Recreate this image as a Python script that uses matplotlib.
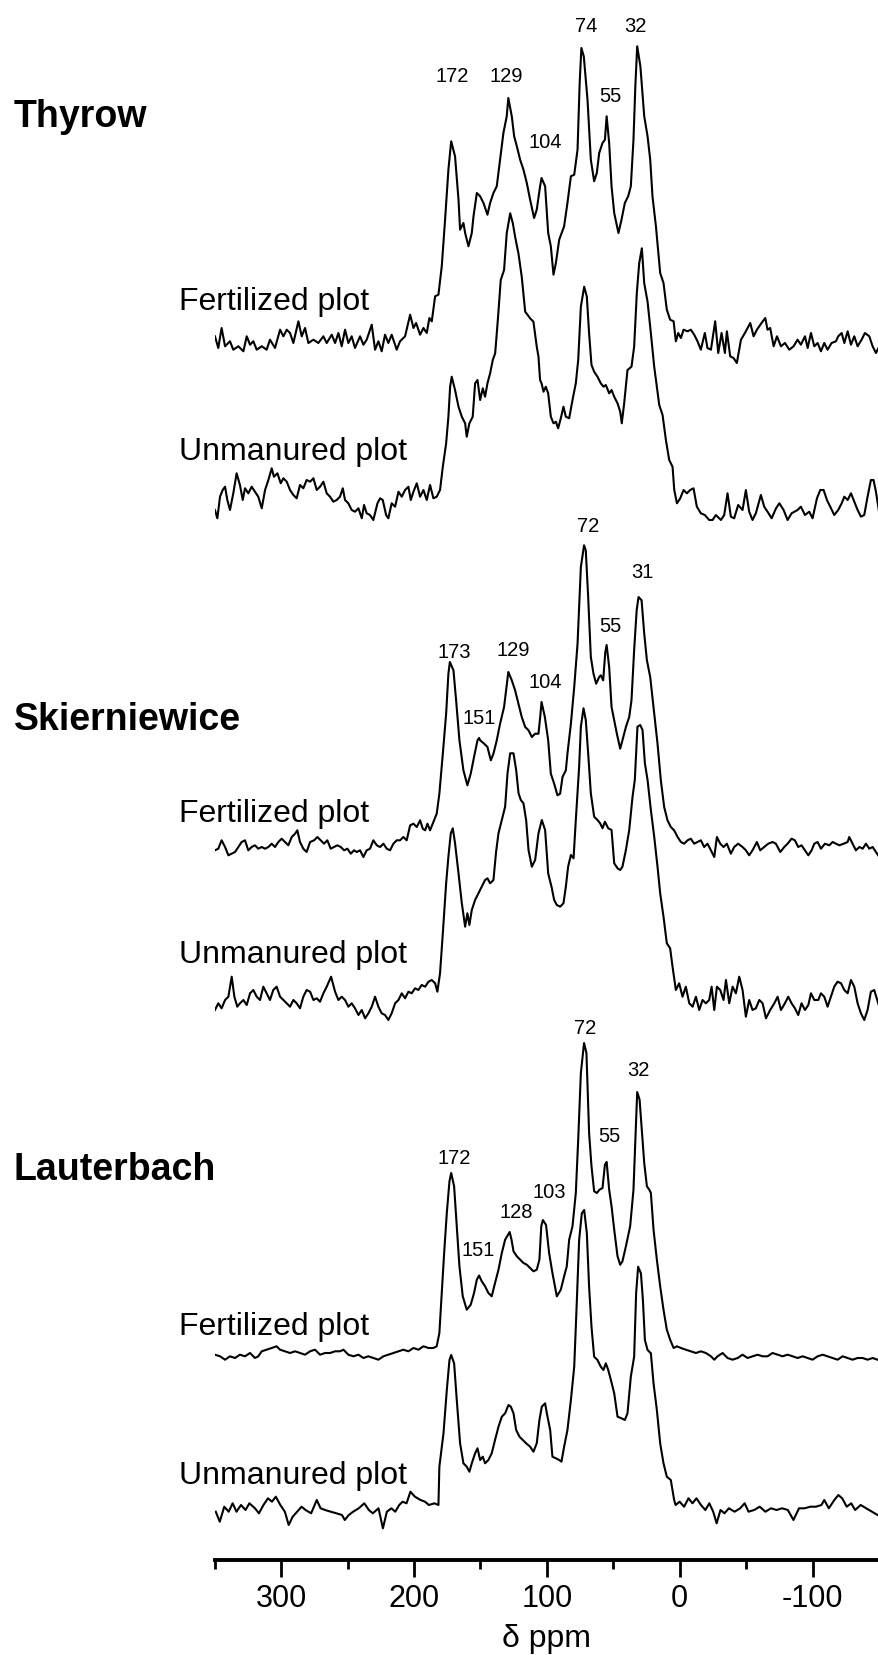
import matplotlib.pyplot as plt

plt.rcParams['font.family'] = ['Liberation Sans', 'DejaVu Sans']
plt.rcParams['axes.unicode_minus'] = False

# chemical shift (ppm) and intensity (a.u., above each trace's baseline)
thyrow_fert_ppm = [349.8, 347.3, 344.8, 342.2, 338.5, 336.0, 332.2, 328.4, 325.9, 323.4, 320.9, 318.4, 314.6,
                   310.9, 308.4, 304.6, 300.8, 298.3, 295.8, 293.3, 290.8, 287.0, 284.5, 282.0, 279.5, 275.7,
                   272.0, 268.2, 265.7, 261.9, 259.4, 256.9, 254.4, 251.9, 249.4, 246.9, 244.4, 240.6, 238.1,
                   235.6, 231.8, 229.3, 226.8, 224.3, 221.8, 219.3, 216.8, 213.0, 210.5, 206.7, 202.9, 200.4,
                   198.4, 195.4, 192.9, 190.4, 188.4, 186.6, 184.1, 181.6, 179.1, 176.6, 174.1, 172.0, 169.1,
                   166.5, 165.3, 162.8, 161.5, 159.0, 156.5, 155.2, 152.7, 150.2, 147.7, 144.7, 142.7, 140.2,
                   137.7, 135.2, 132.7, 130.2, 129.0, 126.4, 124.6, 122.6, 120.1, 117.6, 115.1, 112.6, 109.6,
                   107.6, 105.1, 104.0, 101.3, 99.0, 97.0, 95.0, 93.2, 90.7, 87.0, 84.5, 81.9, 79.4, 76.9,
                   75.3, 74.0, 72.2, 69.4, 66.9, 64.4, 62.4, 60.6, 58.1, 56.3, 55.0, 53.1, 51.3, 49.3, 46.1,
                   43.8, 41.3, 38.8, 36.8, 34.8, 33.4, 32.0, 29.6, 26.7, 24.2, 22.2, 20.5, 17.9, 14.7, 12.2,
                   9.7, 7.2, 4.6, 2.9, 1.1, -0.9, -2.9, -5.9, -8.4, -10.9, -13.4, -15.9, -18.9, -20.9, -23.5,
                   -26.7, -29.0, -31.5, -34.0, -35.5, -38.0, -40.5, -43.0, -46.1, -49.1, -53.1, -55.6, -58.1,
                   -61.6, -64.4, -66.1, -68.1, -70.7, -73.2, -76.2, -79.2, -82.5, -85.7, -88.7, -91.2, -94.3,
                   -96.3, -98.8, -101.3, -103.8, -106.3, -108.8, -111.3, -114.3, -117.6, -119.3, -121.9,
                   -123.9, -126.4, -128.9, -131.4, -133.9, -136.9, -139.4, -142.7, -145.2, -147.7, -150.2]
thyrow_fert_int = [6.7, -5, 15, -3.3, 1.7, -6.7, -3.3, -8.3, 6.7, -1.7, 1.7, -6.7, -3.3,
                   -6.7, 3.3, -5, 13.3, 6.7, 13.3, 10, 0, 21.7, 6.7, 15, 0, 3.3,
                   0, 6.7, 0, 8.3, 0, 10, -3.3, 13.3, 0, 6.7, -5, 6.7, -1.7,
                   3.3, 18.3, -6.7, 1.7, -8.3, 8.3, 0, 8.3, -6.7, 1.7, 6.7, 28.3, 15,
                   20, 8.3, 15, 10, 25, 21.7, 46.7, 48.3, 76.7, 123.3, 173.3, 201.7, 186.7,
                   143.3, 113.3, 120, 110, 96.7, 110, 126.7, 150, 146.7, 140, 128.3, 140, 150,
                   156.7, 183.3, 210, 226.7, 245, 226.7, 206.7, 196.7, 183.3, 173.3, 160, 143.3, 125,
                   133.3, 156.7, 165, 156.7, 110, 96.7, 68.3, 80, 103.3, 116.7, 140, 166.7, 168.3, 193.3,
                   260, 295, 286.7, 243.3, 183.3, 161.7, 170, 190, 200, 203.3, 226.7, 200, 156.7, 130, 110,
                   123.3, 140, 146.7, 156.7, 203.3, 256.7, 296.7, 276.7, 226.7, 206.7, 183.3, 146.7, 116.7, 70, 60,
                   33.3, 23.3, 21.7, 1.7, 10, 5, 13.3, 11.7, 13.3, 8.3, 1.7, -6.7, 10, -5, -6.7,
                   21.7, -10, 10, -10, 11.7, -13.3, -15, -20, 3.3, 10, 20, 6.7, 13.3,
                   20, 25, 13.3, 15, -3.3, 6.7, -3.3, 0, -6.7, -3.3, 3.3, -1.7, 6.7,
                   -5, 10, -3.3, 0, -8.3, 0, -6.7, 0, 1.7, 6.7, 10,
                   0, 11.7, -1.7, 6.7, -3.3, 3.3, 10, 6.7, -3.3, -10, -3.3]

thyrow_unman_ppm = [349.8, 348.0, 346.0, 344.0, 342.2, 340.5, 338.5, 336.0, 333.5, 331.0, 328.9, 327.2, 324.7,
                    322.2, 319.7, 317.2, 314.6, 312.1, 309.6, 307.1, 305.4, 302.8, 300.3, 298.3, 295.8, 293.3,
                    290.8, 288.3, 285.8, 283.3, 280.8, 278.2, 275.7, 273.2, 270.7, 268.2, 265.7, 263.2, 260.7,
                    258.2, 255.7, 253.6, 251.9, 249.4, 246.9, 244.4, 241.8, 239.3, 237.6, 235.6, 233.1, 230.6,
                    227.5, 225.5, 223.5, 221.0, 219.3, 216.8, 214.2, 211.7, 209.2, 206.7, 204.2, 202.4, 200.4,
                    197.9, 195.4, 192.9, 190.4, 187.9, 185.4, 182.9, 180.4, 178.3, 175.8, 174.1, 172.8, 171.6,
                    169.1, 166.5, 164.0, 161.5, 160.3, 158.3, 155.8, 154.0, 152.2, 150.2, 148.2, 146.5, 144.7,
                    142.7, 140.7, 138.9, 136.9, 134.7, 132.2, 130.2, 127.6, 125.6, 123.9, 121.4, 118.9, 116.3,
                    112.6, 110.1, 107.6, 106.3, 105.1, 104.0, 102.5, 100.8, 99.0, 97.0, 95.0, 93.2, 91.5, 89.5,
                    87.5, 85.7, 83.2, 80.7, 78.2, 76.4, 74.4, 71.9, 69.9, 68.2, 66.4, 64.4, 61.9, 59.4, 57.4,
                    55.6, 53.1, 51.3, 49.3, 46.8, 44.8, 43.6, 41.8, 39.3, 36.3, 34.3, 32.3, 30.5, 28.5, 26.7,
                    24.2, 21.7, 19.2, 15.4, 12.9, 10.4, 7.9, 5.4, 4.1, 2.1, -0.4, -2.9, -5.4, -7.9, -10.4,
                    -12.9, -15.9, -18.9, -22.2, -24.7, -27.2, -31.0, -33.5, -36.0, -38.5, -41.0, -44.0, -47.3,
                    -49.8, -52.3, -54.8, -57.3, -61.1, -63.6, -66.1, -69.2, -72.5, -75.0, -78.2, -81.2, -84.2,
                    -88.7, -91.2, -94.3, -97.5, -100.0, -103.3, -105.8, -108.3, -110.8, -113.3, -116.3, -119.3,
                    -121.9, -123.9, -126.4, -128.9, -131.4, -133.9, -136.4, -138.9, -141.4, -143.9, -145.9,
                    -147.7, -150.2]
thyrow_unman_int = [-10, -18.3, 3.3, 10, 13.3, 0, -10, 6.7, 26.7, 15, 0, 11.7, 6.7,
                    13.3, 8.3, 3.3, -8.3, 10, 20, 31.7, 23.3, 26.7, 16.7, 21.7, 18.3, 10,
                    5, 1.7, 15, 11.7, 20, 18.3, 21.7, 10, 13.3, 18.3, 6.7, 3.3, -1.7,
                    0, 3.3, 11.7, 0, -3.3, -10, -11.7, -8.3, -18.3, -5, -13.3, -15, -20,
                    -3.3, 1.7, 0, -15, -18.3, -3.3, -6.7, 8.3, 3.3, 10, 13.3, 0, 8.3,
                    16.7, 3.3, 10, 0, 15, 1.7, 3.3, 10, 33.3, 56.7, 83.3, 113.3, 123.3,
                    110, 93.3, 83.3, 76.7, 63.3, 76.7, 83.3, 116.7, 120, 100, 111.7, 103.3, 116.7,
                    126.7, 140, 146.7, 180, 220, 230, 266.7, 286.7, 276.7, 263.3, 246.7, 223.3, 188.3,
                    181.7, 178.3, 153.3, 143.3, 120, 116.7, 108.3, 113.3, 106.7, 83.3, 76.7, 78.3, 71.7, 81.7,
                    93.3, 83.3, 81.7, 100, 116.7, 140, 193.3, 213.3, 203.3, 166.7, 135, 128.3, 123.3, 116.7, 113.3,
                    115, 106.7, 110, 103.3, 96.7, 88.3, 76.7, 96.7, 130, 133.3, 153.3, 206.7, 236.7, 251.7, 216.7,
                    198.3, 166.7, 133.3, 95, 85, 60, 40, 33.3, 10, -3.3, 1.7, 10, 6.7, 10, 11.7,
                    -6.7, -13.3, -15, -20, -20, -15, -20, -15, 6.7, -16.7, -18.3, -5, -10,
                    10, -11.7, -20, -13.3, 5, -6.7, -11.7, -18.3, -8.3, -3.3, -10, -20, -13.3,
                    -10, -6.7, -15, -11.7, -18.3, 1.7, 10, 10, 0, -6.7, -15, -10,
                    -3.3, 3.3, 0, 6.7, -1.7, -10, -16.7, -15, 3.3, 20, 20,
                    8.3, -13.3]

skier_fert_ppm = [349.8, 347.3, 344.8, 342.2, 339.7, 337.2, 334.7, 332.2, 329.7, 327.2, 324.7, 322.2, 319.7,
                  317.2, 314.6, 312.1, 309.6, 307.1, 304.6, 302.1, 299.6, 297.1, 294.6, 292.0, 289.5, 287.8,
                  285.8, 283.3, 280.8, 278.2, 275.2, 272.7, 270.2, 267.7, 265.2, 262.7, 260.2, 257.7, 255.1,
                  252.6, 250.1, 247.6, 245.1, 243.1, 240.6, 238.1, 235.6, 233.1, 230.6, 228.0, 225.5, 223.0,
                  220.5, 218.0, 215.5, 213.0, 210.5, 208.0, 205.5, 202.9, 200.4, 197.9, 195.4, 193.4, 191.6,
                  189.9, 187.9, 185.4, 182.9, 180.9, 178.3, 175.8, 174.1, 173.0, 170.3, 168.3, 165.8, 162.8,
                  159.8, 157.3, 154.8, 152.2, 151.0, 150.2, 147.2, 144.7, 142.2, 140.2, 137.7, 135.2, 132.2,
                  129.0, 126.4, 123.9, 121.4, 118.9, 116.3, 113.8, 111.3, 108.8, 106.3, 105.0, 104.0, 101.5,
                  99.0, 97.0, 94.5, 92.0, 90.0, 88.2, 85.7, 84.5, 81.9, 79.4, 76.9, 74.4, 72.0, 70.7, 68.9,
                  66.9, 64.9, 62.9, 60.6, 59.4, 57.6, 56.0, 55.0, 53.1, 51.3, 49.3, 47.3, 44.8, 43.1, 40.5,
                  38.0, 36.3, 34.3, 32.4, 31.0, 28.7, 26.7, 24.7, 22.2, 19.7, 16.7, 14.2, 11.7, 9.2, 6.7, 4.2,
                  1.6, -0.9, -3.4, -5.9, -8.4, -10.9, -13.4, -15.9, -18.4, -20.9, -23.5, -26.0, -28.0, -30.5,
                  -33.0, -35.5, -38.5, -41.0, -44.0, -47.3, -49.8, -52.3, -54.8, -58.1, -60.6, -63.6, -66.6,
                  -69.9, -72.4, -75.7, -78.7, -81.2, -84.2, -86.7, -89.2, -91.7, -94.3, -96.8, -99.3, -101.3,
                  -103.8, -106.3, -109.3, -112.6, -115.1, -117.6, -120.1, -123.4, -126.4, -127.6, -130.1,
                  -132.6, -135.2, -137.7, -140.2, -142.7, -145.2, -147.7, -150.2]
skier_fert_int = [-3.3, -1.7, 6.7, 0, -8.3, -6.7, -5, 0, 5, 6.7, -3.3, 0, 1.7,
                  -1.7, 0, -1.7, 0, 3.3, 0, 5, 8.3, 5, 1.7, 10, 13.3, 16.7,
                  5, -1.7, -5, 5, 6.7, 10, 6.7, 3.3, 6.7, -1.7, 0, 1.7, 0,
                  -3.3, -1.7, -6.7, -3.3, -5, -3.3, -10, -3.3, -1.7, 6.7, 1.7, 0, 3.3,
                  -1.7, -3.3, 3.3, 6.7, 6.7, 10, 6.7, 21.7, 23.3, 20, 26.7, 18.3, 16.7,
                  23.3, 16.7, 25, 33.3, 53.3, 93.3, 133.3, 173.3, 185, 176.7, 146.7, 106.7, 76.7,
                  61.7, 73.3, 90, 106.7, 109, 106.7, 103.3, 100, 86.7, 93.3, 106.7, 123.3, 140,
                  175, 166.7, 156.7, 143.3, 130, 120, 116.7, 110, 113.3, 113.3, 130, 145, 130,
                  106.7, 73.3, 63.3, 51.7, 53.3, 70, 76.7, 93.3, 123.3, 160, 203.3, 280, 301.7, 296.7, 250,
                  190, 173.3, 163.3, 170, 171.7, 166.7, 195, 202, 180, 140, 126.7, 113.3, 98.3, 106.7, 120,
                  130, 146.7, 196.7, 236.7, 250, 246.7, 213.3, 186.7, 170, 140, 103.3, 66.7, 40, 26.7, 20, 16.7,
                  10, 5, 3.3, 6.7, 8.3, 3.3, 5, 6.7, 0, 3.3, -3.3, -10, 10, 3.3,
                  0, 3.3, -6.7, 0, 3.3, 0, -3.3, -8.3, -3.3, 5, -3.3, 0, 3.3,
                  5, 3.3, -5, 0, 3.3, 8.3, 6.7, 0, 1.7, -3.3, -8.3, -3.3, 3.3,
                  5, -1.7, 3.3, 1.7, 5, 3.3, 1.7, 3.3, 5, 10, 3.3,
                  -3.3, 0, -1.7, 3.3, -1.7, 0, -5, -10]

skier_unman_ppm = [349.8, 347.3, 344.8, 342.2, 339.7, 337.2, 335.2, 333.0, 331.0, 328.4, 325.9, 323.4, 320.9,
                   318.4, 315.9, 313.4, 310.9, 308.4, 305.9, 303.4, 300.8, 298.3, 295.8, 293.3, 290.8, 288.3,
                   285.8, 283.3, 280.8, 278.2, 275.7, 273.2, 270.7, 268.2, 265.7, 262.4, 259.4, 256.9, 254.4,
                   251.9, 249.4, 246.9, 244.4, 241.8, 239.3, 236.8, 234.3, 231.8, 229.3, 226.8, 224.3, 221.8,
                   219.3, 216.8, 214.2, 211.7, 209.2, 206.7, 204.2, 201.7, 199.2, 196.7, 194.2, 191.6, 189.1,
                   186.6, 184.1, 182.4, 180.4, 178.3, 175.8, 174.1, 172.3, 170.8, 169.1, 166.5, 164.0, 161.5,
                   159.8, 158.3, 156.5, 154.0, 151.5, 149.0, 146.5, 144.7, 142.7, 140.2, 138.2, 136.4, 133.9,
                   131.4, 129.6, 127.6, 125.1, 123.1, 121.3, 119.6, 117.6, 115.6, 113.8, 111.3, 108.8, 106.3,
                   103.8, 101.3, 99.0, 96.5, 94.5, 92.5, 90.0, 87.5, 85.7, 84.0, 81.9, 79.9, 78.2, 75.7, 74.4,
                   72.4, 70.7, 68.9, 66.9, 64.4, 61.9, 59.9, 58.1, 56.3, 53.8, 51.3, 49.3, 46.8, 44.8, 43.1,
                   40.5, 38.0, 35.5, 33.8, 31.8, 29.7, 28.0, 26.2, 24.2, 21.7, 19.2, 16.7, 14.7, 12.2, 9.7, 7.2,
                   5.4, 2.9, 0.4, -2.1, -4.6, -7.2, -9.7, -12.2, -14.7, -17.2, -19.7, -22.2, -24.0, -26.0,
                   -28.0, -30.5, -33.0, -34.8, -37.3, -39.8, -42.3, -44.8, -47.3, -49.8, -52.3, -54.8, -57.3,
                   -59.9, -62.4, -64.9, -68.1, -71.2, -73.7, -76.2, -79.2, -81.7, -84.2, -86.7, -89.2, -91.7,
                   -94.3, -96.8, -98.8, -101.3, -104.3, -106.3, -108.8, -111.3, -113.8, -116.3, -118.8, -121.4,
                   -123.9, -126.4, -128.9, -131.4, -133.9, -136.4, -138.9, -141.4, -143.9, -146.4, -150.2]
skier_unman_int = [-10, -3.3, -8.3, 0, 3.3, 23.3, 3.3, -6.7, -3.3, 0, -5, 6.7, 10,
                   3.3, 0, 13.3, 6.7, 0, 10, 13.3, 3.3, 0, -3.3, -6.7, 0, -3.3,
                   -8.3, 3.3, 10, 8.3, 0, 1.7, -1.7, 6.7, 13.3, 23.3, 8.3, 0, 3.3,
                   0, -6.7, -3.3, -8.3, -15, -10, -18.3, -13.3, -6.7, 3.3, -6.7, -13.3, -15,
                   -20, -13.3, -3.3, 0, 6.7, 1.7, 8.3, 6.7, 11.7, 10, 15, 13.3, 18.3,
                   20, 16.7, 8.3, 26.7, 66.7, 116.7, 143.3, 166.7, 171.7, 156.7, 126.7, 96.7, 73.3,
                   86.7, 75, 90, 100, 106.7, 113.3, 120, 121.7, 116.7, 120, 148.3, 166.7, 180,
                   193.3, 226.7, 246.7, 246.7, 230, 206.7, 200, 196.7, 180, 150, 133.3, 140, 166.7,
                   180, 170, 126.7, 113.3, 100, 95, 93.3, 96.7, 113.3, 133.3, 145, 141.7, 180, 233.3, 273.3,
                   291.7, 280, 246.7, 206.7, 183.3, 180, 176.7, 171.7, 178.3, 171.7, 170, 136.7, 131.7, 130, 133.3,
                   150, 170, 203.3, 220, 273.3, 275, 270, 236.7, 220, 190, 163.3, 133.3, 106.7, 83.3, 56.7, 51.7,
                   33.3, 10, 16.7, 3.3, 13.3, -3.3, -6.7, 3.3, -10, 0, -3.3, 0, 13.3, -10,
                   13.3, 10, 0, 20, -3.3, 13.3, 6.7, 23.3, 10, -16.7, 0, -10, -8.3,
                   0, -3.3, -18.3, -10, -3.3, 3.3, -10, -3.3, 3.3, -3.3, -8.3, -15, -3.3,
                   -10, -5, 6.7, 0, 0, 6.7, 3.3, -6.7, 3.3, 13.3, 18.3, 16.7,
                   10, 6.7, 20, 13.3, -3.3, -13.3, -20, -10, 8.3, 10, -6.7]

lauter_fert_ppm = [349.8, 346.0, 342.2, 338.5, 334.7, 331.0, 327.2, 323.4, 319.7, 317.2, 314.6, 310.9, 307.1,
                   303.4, 300.8, 297.1, 293.3, 289.5, 285.8, 282.0, 278.2, 274.5, 270.7, 266.9, 263.2, 259.4,
                   255.7, 253.1, 249.4, 245.6, 241.8, 238.1, 234.3, 230.6, 226.8, 223.0, 219.3, 215.5, 211.7,
                   208.0, 204.2, 200.4, 196.7, 192.9, 189.1, 185.4, 182.9, 180.9, 179.1, 177.3, 175.3, 173.3,
                   172.0, 169.8, 167.8, 165.8, 163.3, 160.3, 157.3, 154.8, 152.7, 151.0, 149.0, 146.5, 144.0,
                   141.5, 139.0, 136.4, 133.9, 131.4, 128.0, 126.6, 125.1, 122.6, 120.1, 117.6, 115.1, 112.6,
                   110.1, 107.6, 105.6, 104.2, 103.0, 100.6, 98.3, 95.8, 92.5, 89.5, 87.0, 85.0, 83.2, 80.7,
                   78.2, 76.4, 74.4, 72.0, 70.2, 68.2, 66.4, 64.4, 62.4, 60.4, 58.1, 56.3, 55.0, 53.1, 51.3,
                   49.3, 46.8, 44.8, 43.1, 40.5, 37.3, 34.8, 33.2, 32.0, 30.2, 28.7, 26.7, 24.7, 22.9, 21.7,
                   19.7, 17.2, 14.7, 12.2, 9.7, 7.2, 4.6, 2.1, -0.9, -4.6, -8.4, -12.2, -15.9, -19.7, -23.5,
                   -26.0, -28.5, -32.3, -36.0, -39.8, -43.6, -47.3, -51.1, -54.9, -58.6, -62.4, -66.1, -69.9,
                   -73.7, -77.4, -81.2, -85.0, -88.7, -92.5, -96.3, -100.0, -103.8, -107.6, -111.3, -115.1,
                   -118.9, -122.6, -126.4, -130.1, -133.9, -137.7, -141.4, -145.2, -148.9]
lauter_fert_int = [-1.7, -3.3, -6.7, -3.3, -5, -1.7, -3.3, 0, -5, -3.3, 1.7, 3.3, 5,
                   6.7, 3.3, 1.7, 0, 1.7, 0, -1.7, 1.7, 3.3, -1.7, 0, 0, 1.7,
                   1.7, 3.3, -1.7, -3.3, -1.7, -5, -3.3, -5, -6.7, -3.3, -1.7, 0, 1.7,
                   3.3, 1.7, 5, 3.3, 6.7, 5, 5, 6.7, 20, 60, 100, 140, 171.7,
                   180, 166.7, 126.7, 86.7, 56.7, 43.3, 48.3, 60, 73.3, 77.5, 71.7, 66.7, 60,
                   56.7, 70, 83.3, 100, 113.3, 121, 113.3, 101.7, 96.7, 93.3, 90, 88.3, 85,
                   81.7, 83.3, 93.3, 126.7, 133, 128, 100, 80, 56.7, 63.3, 76.7, 86.7, 113.3, 126.7,
                   160, 213.3, 280, 310, 300, 220, 186.7, 161.7, 160, 163.3, 165, 188.3, 191, 163.3, 146.7,
                   123.3, 96.7, 88.3, 91.7, 106.7, 126.7, 163.3, 220, 261, 253.3, 226.7, 190, 166.7, 163.3, 160,
                   123.3, 93.3, 66.7, 43.3, 23.3, 13.3, 5, 6.7, 5, 3.3, 1.7, 0, 1.7, 0, -3.3,
                   -6.7, -3.3, 0, -5, -6.7, -5, -1.7, -5, -3.3, -1.7, -3.3, -3.3, 0,
                   -1.7, -3.3, -1.7, -3.3, -5, -3.3, -5, -6.7, -3.3, -1.7, -3.3, -5,
                   -6.7, -3.3, -5, -6.7, -5, -5, -6.7, -5, -6.7]

lauter_unman_ppm = [349.2, 346.2, 342.8, 339.5, 336.5, 333.6, 330.2, 326.8, 323.9, 319.7, 316.7, 313.3, 309.9,
                    306.9, 304.0, 300.6, 297.2, 294.3, 291.3, 288.0, 284.6, 281.6, 277.4, 273.2, 270.3, 266.9,
                    262.7, 258.4, 254.2, 252.1, 249.1, 245.8, 241.6, 237.4, 234.0, 231.0, 226.7, 223.4, 220.4,
                    217.0, 214.1, 211.1, 208.6, 205.6, 202.7, 199.3, 195.1, 191.7, 188.8, 184.6, 181.6, 180.9,
                    177.8, 175.3, 173.3, 172.0, 169.8, 167.8, 165.3, 162.8, 160.3, 158.3, 156.5, 154.0, 152.2,
                    150.2, 148.2, 146.5, 144.0, 141.5, 139.0, 136.4, 133.9, 131.4, 128.9, 127.1, 125.1, 123.1,
                    120.6, 118.1, 115.6, 112.6, 110.1, 107.6, 105.6, 103.8, 101.3, 100.0, 97.5, 95.8, 93.2, 90.7,
                    89.0, 87.0, 84.5, 81.9, 79.4, 77.4, 75.7, 73.7, 71.9, 69.9, 68.2, 66.4, 64.4, 61.9, 59.4,
                    57.4, 55.6, 53.8, 51.8, 49.3, 46.8, 43.8, 41.3, 39.3, 36.8, 34.3, 32.8, 31.3, 29.2, 27.7,
                    26.2, 24.2, 21.7, 19.7, 17.2, 14.7, 12.2, 9.7, 6.7, 4.2, 3.1, 0.1, -3.3, -6.6, -9.6, -12.6,
                    -16.0, -19.3, -22.3, -25.2, -27.8, -30.7, -33.7, -37.0, -41.3, -45.5, -48.9, -51.8, -56.0,
                    -60.2, -64.5, -68.7, -72.9, -77.1, -81.4, -85.6, -89.8, -94.0, -98.3, -102.5, -106.7, -108.8,
                    -112.2, -116.4, -119.4, -122.3, -125.7, -129.1, -132.0, -136.2, -140.4, -144.7, -148.9]
lauter_unman_int = [-1.7, -11.7, 3.3, -1.7, 6.7, -1.7, 5, 0, 6.7, 1.7, -3.3, 5, 11.7,
                    8.3, 13.3, 5, -1.7, -15, -6.7, -1.7, 3.3, 0, -3.3, 10, 1.7, 0,
                    -1.7, -3.3, -5, -10, -5, -1.7, 1.7, 6.7, 0, -3.3, 1.7, -18.3, -1.7,
                    1.7, -1.7, 5, 8.3, 6.7, 18.3, 13.3, 10, 8.3, 5, 6.7, 5, 43.3,
                    76.7, 120, 150, 155, 146.7, 110, 66.7, 46.7, 43.3, 38.3, 46.7, 56.7, 61.7,
                    50, 53.3, 46.7, 50, 56.7, 70, 83.3, 93.3, 96.7, 105, 103.3, 96.7, 80,
                    73.3, 70, 66.7, 63.3, 58.3, 66.7, 90, 103.3, 106.7, 96.7, 80, 53.3, 51.7, 50,
                    48.3, 63.3, 80, 110, 143.3, 210, 270, 296.7, 300, 276.7, 223.3, 183.3, 153.3, 150, 143.3,
                    140, 146.7, 140, 130, 116.7, 93.3, 91.7, 90, 96.7, 133.3, 153.3, 216.7, 243.3, 236.7, 210,
                    170, 160, 156.7, 126.7, 100, 66.7, 46.7, 33.3, 30, 10, 5, 8.3, 3.3, 11.7, 6.7, 11.7,
                    5, 0, 6.7, -1.7, -13.3, 0, -3.3, 1.7, -1.7, 1.7, 6.7, -1.7, 0,
                    3.3, -1.7, 1.7, 0, 1.7, 0, -10, 1.7, 1.7, 3.3, 3.3, 5, 10,
                    1.7, 10, 15, 11.7, 3.3, 6.7, 0, 5, 1.7, -1.7, -5]

sites = ["Thyrow", "Skierniewice", "Lauterbach"]
plot_names = ["Fertilized plot", "Unmanured plot"]

# peak labels (shift values) for the fertilized spectrum of each site
thyrow_peaks = ["172", "129", "104", "74", "55", "32"]
skier_peaks = ["173", "151", "129", "104", "72", "55", "31"]
lauter_peaks = ["172", "151", "128", "103", "72", "55", "32"]

# ---- layout (pixel rows of a 879 x 1655 canvas) ----
W, H = 879, 1655
axis_row = 1560
x0_px = 214.7

traces = [
    (thyrow_fert_ppm, thyrow_fert_int, 343),
    (thyrow_unman_ppm, thyrow_unman_int, 500),
    (skier_fert_ppm, skier_fert_int, 847),
    (skier_unman_ppm, skier_unman_int, 1000),
    (lauter_fert_ppm, lauter_fert_int, 1353),
    (lauter_unman_ppm, lauter_unman_int, 1510),
]

fig = plt.figure(figsize=(W / 100, H / 100), dpi=100)
ax = fig.add_axes([x0_px / W, (H - axis_row) / H, 1 - x0_px / W, axis_row / H])
ax.set_xlim(350, -150)
ax.set_ylim(0, axis_row)

for ppm, inten, base_row in traces:
    off = axis_row - base_row
    ax.plot(ppm, [v + off for v in inten], color='black', lw=1.5, solid_joinstyle='round')

# peak label placement: (ppm, pixel row)
label_pos = [
    (thyrow_peaks, [(171.3, 77), (130.7, 77), (101.3, 143), (70.4, 27), (52.3, 97), (33.5, 27)]),
    (skier_peaks, [(169.8, 652), (151.0, 718), (125.4, 651), (101.3, 683), (68.9, 527), (52.3, 626),
                   (28.2, 572)]),
    (lauter_peaks, [(169.8, 1158), (151.7, 1251), (123.1, 1212), (98.3, 1193), (71.2, 1028), (53.1, 1136),
                    (31.2, 1071)]),
]
for names, spots in label_pos:
    for txt, (xp, row) in zip(names, spots):
        ax.text(xp, axis_row - row, txt, ha='center', va='center', fontsize=14.5)

site_rows = [127, 730, 1180]
for name, row in zip(sites, site_rows):
    fig.text(14 / W, 1 - row / H, name, fontsize=27, fontweight='bold', va='baseline', ha='left')

sub_rows = [310, 460, 822, 963, 1335, 1484]
for i, row in enumerate(sub_rows):
    fig.text(179 / W, 1 - row / H, plot_names[i % 2], fontsize=23, va='baseline', ha='left')

for side in ['top', 'left', 'right']:
    ax.spines[side].set_visible(False)
ax.spines['bottom'].set_linewidth(2.8)
ax.set_yticks([])
ax.set_xticks([300, 200, 100, 0, -100])
ax.set_xticks([350, 250, 150, 50, -50, -150], minor=True)
ax.tick_params(axis='x', which='major', direction='out', length=12, width=2, labelsize=22, pad=5)
ax.tick_params(axis='x', which='minor', direction='out', length=6.5, width=2)
ax.patch.set_visible(False)

fig.text((x0_px + 250 * (W - x0_px) / 500) / W, 1 - 1647 / H, "δ ppm", fontsize=23, ha='center',
         va='baseline')

fig.savefig("out.png", dpi=100)
